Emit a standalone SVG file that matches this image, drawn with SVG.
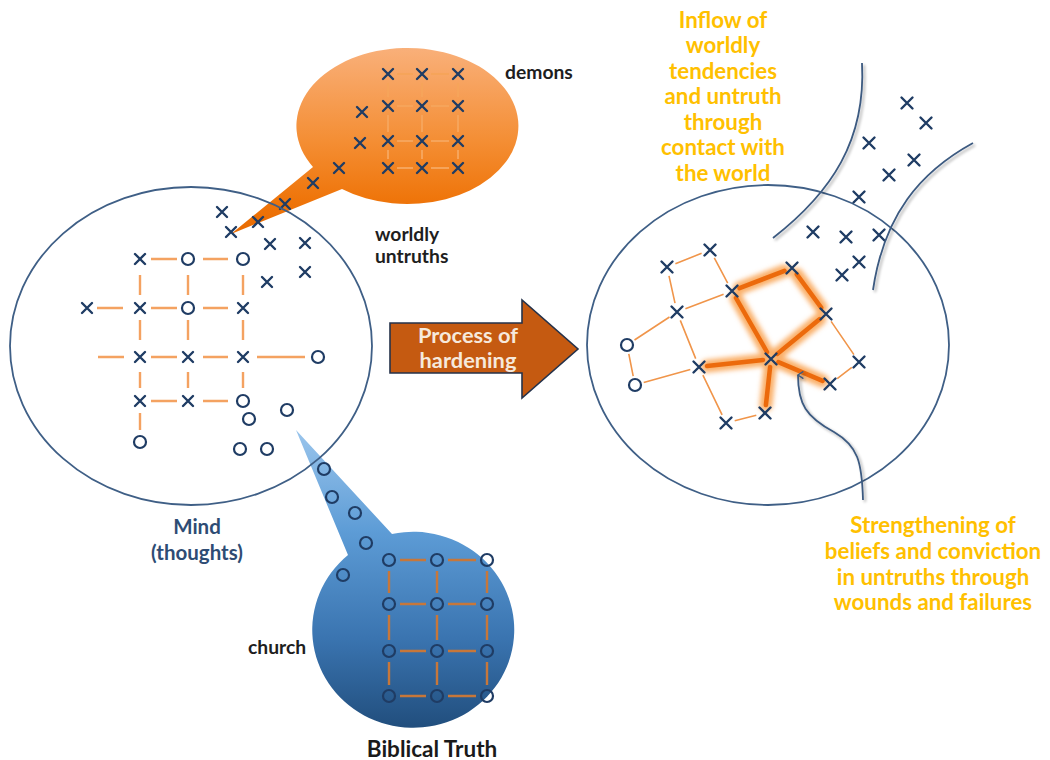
<svg xmlns="http://www.w3.org/2000/svg" xmlns:xlink="http://www.w3.org/1999/xlink" width="1050" height="760" viewBox="0 0 1050 760">
  <style>
    .xm { stroke: #1f3c64; stroke-width: 2.4; fill: none; stroke-linecap: round; }
    .om { stroke: #1f3c64; stroke-width: 2.2; fill: none; }
    .link { stroke: #f4a261; stroke-width: 2.4; fill: none; }
    .link-thin { stroke: #f0954a; stroke-width: 1.6; fill: none; }
    .link-blue { stroke: #c7773a; stroke-width: 2.4; fill: none; }
    .link-demon { stroke: #f6a45a; stroke-width: 2; fill: none; }
    .glow { stroke: #f9a75a; stroke-width: 13; stroke-linecap: round; fill: none; opacity: 0.9; }
    .hard { stroke: #ec6a0c; stroke-width: 4.5; stroke-linecap: round; fill: none; }
    .mind { fill: none; stroke: #3f5f86; stroke-width: 1.8; }
    .curve { fill: none; stroke: #3c5a80; stroke-width: 1.8; }
    .lbl { font-family: Lato, "Open Sans", "Liberation Sans", sans-serif; font-weight: 700; font-size: 19.3px; fill: #1e1e1e; }
    .lbl-mind { font-family: Lato, "Open Sans", "Liberation Sans", sans-serif; font-weight: 700; font-size: 20.5px; fill: #2e4c74; text-anchor: middle; }
    .lbl-bt { font-family: Lato, "Open Sans", "Liberation Sans", sans-serif; font-weight: 700; font-size: 22.5px; fill: #1a1a1a; text-anchor: middle; }
    .note { font-family: Lato, "Open Sans", "Liberation Sans", sans-serif; font-weight: 700; font-size: 22.3px; fill: #ffc000; text-anchor: middle; }
    .arrow-txt { font-family: Lato, "Open Sans", "Liberation Sans", sans-serif; font-weight: 700; font-size: 21.8px; fill: #f6e9dc; text-anchor: middle; }
  </style>
  <defs>
    <g id="xm"><path class="xm" d="M-5,-5L5,5M5,-5L-5,5"/></g>
    <g id="xl"><path class="xm" d="M-5.5,-5.5L5.5,5.5M5.5,-5.5L-5.5,5.5"/></g>
    <g id="om"><circle class="om" r="6"/></g>
    <linearGradient id="gOrange" gradientUnits="userSpaceOnUse" x1="0" y1="47" x2="0" y2="235">
      <stop offset="0" stop-color="#f9b07a"/>
      <stop offset="0.5" stop-color="#f48e34"/>
      <stop offset="0.8" stop-color="#ef760c"/>
      <stop offset="1" stop-color="#e86a00"/>
    </linearGradient>
    <linearGradient id="gBlue" gradientUnits="userSpaceOnUse" x1="0" y1="430" x2="0" y2="728">
      <stop offset="0" stop-color="#9ac5ec"/>
      <stop offset="0.34" stop-color="#5d9cd6"/>
      <stop offset="0.7" stop-color="#3a74b0"/>
      <stop offset="1" stop-color="#214e7d"/>
    </linearGradient>
    <filter id="blur" x="-30%" y="-30%" width="160%" height="160%">
      <feGaussianBlur stdDeviation="2.6"/>
    </filter>
    <filter id="shadow" x="-20%" y="-20%" width="140%" height="140%">
      <feGaussianBlur in="SourceAlpha" stdDeviation="1.5"/>
      <feOffset dx="2" dy="2" result="o"/>
      <feComponentTransfer><feFuncA type="linear" slope="0.35"/></feComponentTransfer>
      <feMerge><feMergeNode/><feMergeNode in="SourceGraphic"/></feMerge>
    </filter>
    <marker id="head" viewBox="0 0 10 10" refX="5" refY="2" markerWidth="9" markerHeight="9" orient="auto-start-reverse" markerUnits="userSpaceOnUse">
      <path d="M1,8 L5,2 L9,8" fill="none" stroke="#3c5a80" stroke-width="1.6"/>
    </marker>
  </defs>

  <!-- demons speech bubble -->
  <g id="demons-bubble">
    <path d="M313,167 A111,78 0 1 1 342,189 L231,234 Z" fill="url(#gOrange)"/>
    <g>
      <path class="link-demon" d="M397,74H413M431,74H449M397,106H413M431,106H449M397,141H413M431,141H449M397,168H413M431,168H449"/>
      <path class="link-demon" d="M388,83V97M388,115V132M388,150V159M422,83V97M422,115V132M422,150V159M458,83V97M458,115V132M458,150V159"/>
    </g>
    <use href="#xm" x="388" y="74"/><use href="#xm" x="422" y="74"/><use href="#xm" x="458" y="74"/>
    <use href="#xm" x="388" y="106"/><use href="#xm" x="422" y="106"/><use href="#xm" x="458" y="106"/>
    <use href="#xm" x="388" y="141"/><use href="#xm" x="422" y="141"/><use href="#xm" x="458" y="141"/>
    <use href="#xm" x="388" y="168"/><use href="#xm" x="422" y="168"/><use href="#xm" x="458" y="168"/>
    <use href="#xm" x="362" y="112"/><use href="#xm" x="360" y="143"/><use href="#xm" x="339" y="168"/>
    <use href="#xm" x="313" y="183"/><use href="#xm" x="285" y="204"/><use href="#xm" x="258" y="222"/>
    <use href="#xm" x="231" y="232"/><use href="#xm" x="222" y="212"/>
  </g>

  <!-- biblical truth speech bubble -->
  <g id="truth-bubble">
    <path d="M348,555 A101,98 0 1 0 392,534 L296,430 Z" fill="url(#gBlue)"/>
    <path class="link-blue" d="M400,560H426M448,560H476M400,604H426M448,604H476M400,651H426M448,651H476M400,696H426M448,696H476"/>
    <path class="link-blue" d="M389,571V593M389,615V640M389,662V685M437,571V593M437,615V640M437,662V685M487,571V593M487,615V640M487,662V685"/>
    <use href="#om" x="389" y="560"/><use href="#om" x="437" y="560"/><use href="#om" x="487" y="560"/>
    <use href="#om" x="389" y="604"/><use href="#om" x="437" y="604"/><use href="#om" x="487" y="604"/>
    <use href="#om" x="389" y="651"/><use href="#om" x="437" y="651"/><use href="#om" x="487" y="651"/>
    <use href="#om" x="389" y="696"/><use href="#om" x="437" y="696"/><use href="#om" x="487" y="696"/>
    <use href="#om" x="324" y="469"/><use href="#om" x="332" y="497"/><use href="#om" x="355" y="513"/>
    <use href="#om" x="366" y="543"/><use href="#om" x="343" y="575"/>
  </g>

  <!-- left mind: mixed thoughts -->
  <g id="mind-before">
    <ellipse class="mind" cx="191" cy="346" rx="181" ry="159"/>
    <path class="link" d="M151,259H177M203,259H228M97,308H123M151,308H177M203,308H228M98,357H124M151,357H177M203,357H228M257,357H305M151,401H177M203,401H228"/>
    <path class="link" d="M140,275V295M140,320V340M140,372V388M140,413V430M188,275V295M188,320V340M188,372V388M243,275V295M243,320V340M243,372V388"/>
    <use href="#xm" x="140" y="259"/><use href="#om" x="188" y="259"/><use href="#om" x="243" y="259"/>
    <use href="#xm" x="87" y="308"/><use href="#xm" x="140" y="308"/><use href="#om" x="188" y="308"/><use href="#xm" x="243" y="308"/>
    <use href="#xm" x="140" y="357"/><use href="#xm" x="188" y="357"/><use href="#xm" x="243" y="357"/><use href="#om" x="318" y="357"/>
    <use href="#xm" x="140" y="401"/><use href="#xm" x="188" y="401"/><use href="#om" x="243" y="401"/>
    <use href="#om" x="140" y="442"/>
    <use href="#om" x="249" y="419"/><use href="#om" x="287" y="410"/><use href="#om" x="240" y="449"/><use href="#om" x="267" y="449"/>
    <use href="#xm" x="270" y="244"/><use href="#xm" x="305" y="243"/><use href="#xm" x="267" y="282"/><use href="#xm" x="305" y="272"/>
  </g>

  <!-- process arrow -->
  <g id="process">
    <polygon points="390,323 522,323 522,300 578,349 522,398 522,373 390,373" fill="#c55a11" stroke="#25324a" stroke-width="1.6" stroke-linejoin="miter"/>
    <text class="arrow-txt" x="468" y="343">Process of</text>
    <text class="arrow-txt" x="468" y="368">hardening</text>
  </g>

  <!-- right mind: hardened thoughts -->
  <g id="mind-after">
    <ellipse class="mind" cx="768" cy="345" rx="181" ry="160"/>
    <path class="link-thin" d="M675.4,263.7L701.6,253.3M669,275.8L675,303.2M714.3,257.9L727.7,283.1M685.4,308.8L723.6,294.2M669.5,317L634.5,340M628.8,353.8L633.2,376.2M643.7,382.6L690.3,369.4M680.3,320.4L695.7,358.6M702.9,375.1L722.1,414.9M734.7,420.8L756.3,415.2M831.1,321.4L853.9,354.6M851.8,367.4L837.2,378.6"/>
    <g filter="url(#blur)">
      <path class="glow" d="M739.5,288.1L784.5,270.9M796.8,274.4L821.2,307.6M736,298L767,352M819.8,319.1L777.2,353.9M707,366.1L763,359.9M770.1,367L765.9,405M778.4,362.1L822.6,380.9"/>
    </g>
    <path class="hard" d="M739.5,288.1L784.5,270.9M796.8,274.4L821.2,307.6M736,298L767,352M819.8,319.1L777.2,353.9M707,366.1L763,359.9M770.1,367L765.9,405M778.4,362.1L822.6,380.9"/>
    <use href="#xl" x="667" y="267"/><use href="#xl" x="710" y="250"/><use href="#xl" x="732" y="291"/>
    <use href="#xl" x="677" y="312"/><use href="#xl" x="792" y="268"/><use href="#xl" x="826" y="314"/>
    <use href="#xl" x="771" y="359"/><use href="#xl" x="699" y="367"/><use href="#xl" x="859" y="362"/>
    <use href="#xl" x="830" y="384"/><use href="#xl" x="765" y="413"/><use href="#xl" x="726" y="423"/>
    <use href="#om" x="627" y="345"/><use href="#om" x="635" y="385"/>
  </g>

  <!-- incoming worldly influences -->
  <g id="world">
    <use href="#xl" x="907" y="103"/><use href="#xl" x="926" y="123"/><use href="#xl" x="869" y="143"/>
    <use href="#xl" x="914" y="160"/><use href="#xl" x="889" y="175"/><use href="#xl" x="859" y="197"/>
    <use href="#xl" x="813" y="232"/><use href="#xl" x="846" y="237"/><use href="#xl" x="879" y="235"/>
    <use href="#xl" x="859" y="262"/><use href="#xl" x="842" y="275"/>
  </g>

  <!-- connectors -->
  <g id="connectors" filter="url(#shadow)">
    <path class="curve" d="M862,63 C866,140 832,192 773,238"/>
    <path class="curve" d="M973,143 C920,172 884,215 873,290"/>
    <path class="curve" d="M863,500 C862,462 858,446 834,432 C806,417 798,404 798,375" marker-end="url(#head)"/>
  </g>

  <!-- labels -->
  <g id="labels">
    <text class="lbl" x="505" y="79">demons</text>
    <text class="lbl" x="375" y="241">worldly</text>
    <text class="lbl" x="375" y="263">untruths</text>
    <text class="lbl" x="248" y="654">church</text>
    <text class="lbl-mind" x="197" y="534">Mind</text>
    <text class="lbl-mind" x="197" y="560">(thoughts)</text>
    <text class="lbl-bt" x="432" y="757">Biblical Truth</text>
    <text class="note" x="723" y="28">Inflow of</text>
    <text class="note" x="723" y="53">worldly</text>
    <text class="note" x="723" y="79">tendencies</text>
    <text class="note" x="723" y="104">and untruth</text>
    <text class="note" x="723" y="130">through</text>
    <text class="note" x="723" y="155">contact with</text>
    <text class="note" x="723" y="181">the world</text>
    <text class="note" x="933" y="533">Strengthening of</text>
    <text class="note" x="933" y="559">beliefs and conviction</text>
    <text class="note" x="933" y="585">in untruths through</text>
    <text class="note" x="933" y="610">wounds and failures</text>
  </g>
</svg>
